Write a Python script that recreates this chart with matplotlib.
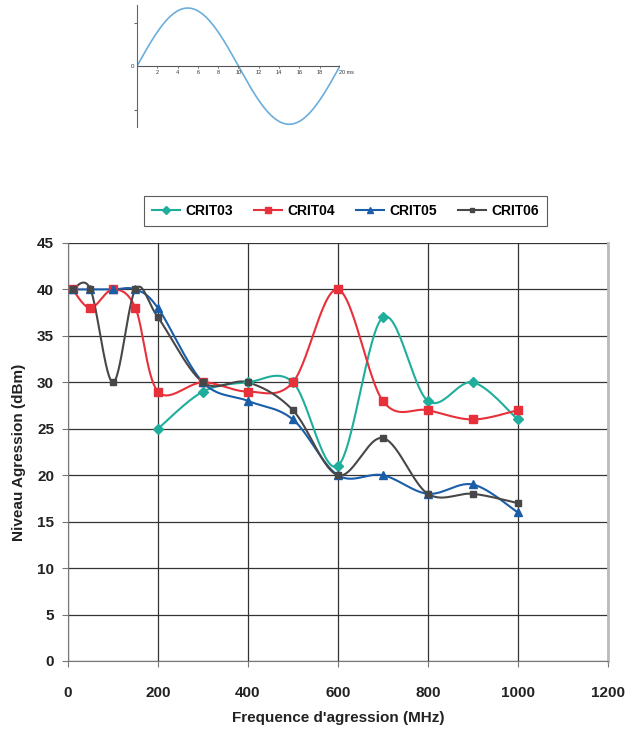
import numpy as np
import matplotlib
matplotlib.use("Agg")
import matplotlib.pyplot as plt
from matplotlib.lines import Line2D

plt.rcParams['font.family'] = ['Liberation Sans', 'DejaVu Sans']

# ---- data ----
freq03 = [200, 300, 400, 500, 600, 700, 800, 900, 1000]
crit03 = [25, 29, 30, 30, 21, 37, 28, 30, 26]

freq04 = [10, 50, 100, 150, 200, 300, 400, 500, 600, 700, 800, 900, 1000]
crit04 = [40, 38, 40, 38, 29, 30, 29, 30, 40, 28, 27, 26, 27]

freq05 = [10, 50, 100, 150, 200, 300, 400, 500, 600, 700, 800, 900, 1000]
crit05 = [40, 40, 40, 40, 38, 30, 28, 26, 20, 20, 18, 19, 16]

freq06 = [10, 50, 100, 150, 200, 300, 400, 500, 600, 700, 800, 900, 1000]
crit06 = [40, 40, 30, 40, 37, 30, 30, 27, 20, 24, 18, 18, 17]

series_names = ["CRIT03", "CRIT04", "CRIT05", "CRIT06"]
x_ticks = [0, 200, 400, 600, 800, 1000, 1200]
y_ticks = [0, 5, 10, 15, 20, 25, 30, 35, 40, 45]

# inset sine illustration
sine_period_ms = 20
sine_ticks = [2, 4, 6, 8, 10, 12, 14, 16, 18]


def smooth(x, y, n=30):
    """Excel-like smoothed line (Catmull-Rom Bezier)."""
    x = np.asarray(x, float)
    y = np.asarray(y, float)
    P = np.column_stack([x, y])
    Pe = np.vstack([P[0], P, P[-1]])
    out = []
    t = np.linspace(0, 1, n)
    for i in range(len(P) - 1):
        p0, p1, p2, p3 = Pe[i], Pe[i + 1], Pe[i + 2], Pe[i + 3]
        c1 = p1 + (p2 - p0) / 6.0
        c2 = p2 - (p3 - p1) / 6.0
        seg = ((1 - t) ** 3)[:, None] * p1 + (3 * (1 - t) ** 2 * t)[:, None] * c1 \
            + (3 * (1 - t) * t ** 2)[:, None] * c2 + (t ** 3)[:, None] * p2
        out.append(seg if i == 0 else seg[1:])
    s = np.vstack(out)
    return s[:, 0], s[:, 1]


fig = plt.figure(figsize=(6.32, 7.35), dpi=100)

# ---- main chart ----
ax = fig.add_axes([0.1076, 0.1007, 0.854, 0.5687])

styles = [
    (freq03, crit03, "#1FAE9C", "D", 5),
    (freq04, crit04, "#E8303A", "s", 6),
    (freq05, crit05, "#1A5DA8", "^", 6),
    (freq06, crit06, "#474747", "s", 4),
]
handles = []
for (fx, fy, col, mk, ms), name in zip(styles, series_names):
    sx, sy = smooth(fx, fy)
    ax.plot(sx, sy, color=col, lw=1.5, zorder=3)
    ax.plot(fx, fy, ls="none", marker=mk, ms=ms, color=col, zorder=4)
    handles.append(Line2D([0], [0], color=col, lw=1.5, marker=mk, ms=ms - 1, label=name))

ax.set_xlim(0, 1200)
ax.set_ylim(0, 45)
ax.set_xticks(x_ticks)
ax.set_yticks(y_ticks)
ax.grid(True, color="#333333", lw=0.9)
ax.set_axisbelow(True)
ax.spines["top"].set_visible(False)
ax.spines["right"].set_color("#BBBBBB")
ax.spines["right"].set_linewidth(2)
ax.spines["left"].set_color("#777777")
ax.spines["bottom"].set_color("#777777")
ax.tick_params(axis="both", labelsize=11, length=4, color="#777777", pad=6)
ax.tick_params(axis="x", pad=14)
for lab in ax.get_xticklabels() + ax.get_yticklabels():
    lab.set_fontweight("bold")
    lab.set_color("#222222")
ax.set_xlabel("Frequence d'agression (MHz)", fontsize=11, fontweight="bold",
              color="#222222", labelpad=8)
ax.set_ylabel("Niveau Agression (dBm)", fontsize=11, fontweight="bold",
              color="#222222", labelpad=8)

leg = fig.legend(handles=handles, loc="center", bbox_to_anchor=(0.5467, 0.7129),
                 ncol=4, frameon=True, fancybox=False, edgecolor="#333333",
                 prop={"weight": "bold", "size": 10}, handlelength=2.0,
                 columnspacing=1.5, handletextpad=0.4, borderpad=0.6)
leg.get_frame().set_linewidth(0.8)

# ---- inset sine ----
ai = fig.add_axes([0.2168, 0.827, 0.321, 0.166])
tt = np.linspace(0, sine_period_ms, 400)
ai.plot(tt, np.sin(2 * np.pi * tt / sine_period_ms), color="#6AAEDD", lw=1.2)
ai.set_xlim(0, 20)
ai.set_ylim(-1.05, 1.05)
for s in ["top", "right", "bottom"]:
    ai.spines[s].set_visible(False)
ai.spines["left"].set_color("#666666")
ai.spines["left"].set_linewidth(0.8)
ai.axhline(0, color="#555555", lw=0.8)
ai.set_xticks([])
ai.set_yticks([0.75, -0.75])
ai.set_yticklabels([])
ai.tick_params(axis="y", length=2, color="#666666")
for v in sine_ticks:
    ai.plot([v, v], [0, -0.04], color="#555555", lw=0.5)
    ai.text(v, -0.07, str(v), fontsize=4, ha="center", va="top", color="#333333")
ai.text(19.9, -0.07, "20 ms", fontsize=4, ha="left", va="top", color="#333333")
ai.text(-0.3, 0, "0", fontsize=4.5, ha="right", va="center", color="#333333")

fig.savefig("out.png", dpi=100)
